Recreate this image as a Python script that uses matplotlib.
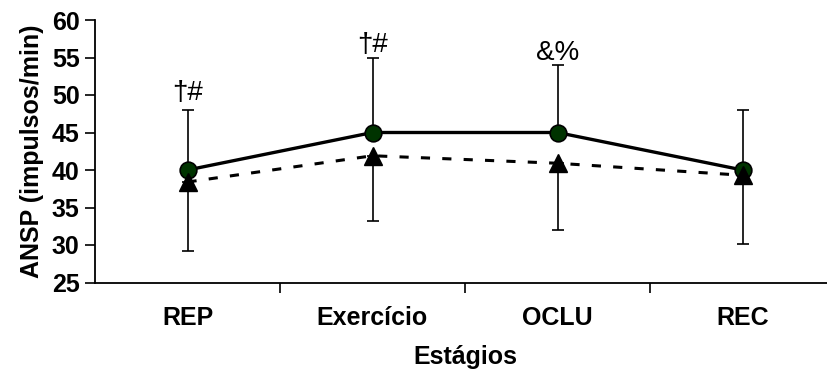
import matplotlib
matplotlib.use("Agg")
import matplotlib.pyplot as plt

categories = ["REP", "Exercício", "OCLU", "REC"]
series_circle = [40, 45, 45, 40]
series_triangle = [38.4, 41.9, 40.9, 39.3]
circle_err_up = [8, 10, 9, 8]
triangle_err_down = [9.2, 8.7, 8.9, 9.1]
annotations = ["†#", "†#", "&%", ""]
annot_y = [50.3, 56.6, 55.6, 0]
yticks = [25, 30, 35, 40, 45, 50, 55, 60]

W, H = 827, 374
fig = plt.figure(figsize=(W / 100, H / 100), dpi=100)
ax = fig.add_axes([95 / W, 1 - 282.5 / H, 740 / W, 262.5 / H])

x = list(range(len(categories)))

ax.errorbar(x, series_circle, yerr=[[0] * 4, circle_err_up], fmt="none",
            ecolor="black", elinewidth=1.2, capsize=4, capthick=1.2, zorder=2)
ax.errorbar(x, series_triangle, yerr=[triangle_err_down, [0] * 4], fmt="none",
            ecolor="black", elinewidth=1.2, capsize=4, capthick=1.2, zorder=2)

ax.plot(x, series_triangle, color="black", lw=2.2, dashes=(3, 4), zorder=3)
ax.plot(x, series_circle, color="black", lw=2.4, zorder=3)
ax.plot(x, series_circle, ls="none", marker="o", ms=12, mfc="#003300",
        mec="black", mew=1.2, zorder=4)
ax.plot(x, series_triangle, ls="none", marker="^", ms=13, mfc="black",
        mec="black", zorder=5)

for xi, t, yv in zip(x, annotations, annot_y):
    if t:
        ax.text(xi, yv, t, ha="center", va="center", fontsize=20,
                family="Liberation Sans")

ax.set_xlim(-0.5, 3.5)
ax.set_ylim(25, 60)
ax.set_yticks(yticks)
ax.set_xticks([0.5, 1.5, 2.5, 3.5], minor=False)
ax.set_xticklabels([])
ax.set_xticks(x, minor=True)
ax.set_xticklabels(categories, minor=True)
ax.tick_params(axis="x", which="minor", length=0, pad=17)
ax.tick_params(axis="x", which="major", length=7, width=1.2, direction="out")
ax.tick_params(axis="y", length=7, width=1.2, direction="out", pad=4)

for lab in ax.get_xticklabels(minor=True) + ax.get_yticklabels():
    lab.set_fontfamily("Liberation Sans")
    lab.set_fontweight("bold")
    lab.set_fontsize(18)

ax.spines["top"].set_visible(False)
ax.spines["right"].set_visible(False)
ax.spines["left"].set_linewidth(1.3)
ax.spines["bottom"].set_linewidth(1.3)

ax.set_ylabel("ANSP (impulsos/min)", fontfamily="Liberation Sans",
              fontweight="bold", fontsize=18, labelpad=6)
fig.text(465 / W, 1 - 357 / H, "Estágios", ha="center", va="center",
         fontfamily="Liberation Sans", fontweight="bold", fontsize=18)

fig.savefig("out.png", dpi=100)
